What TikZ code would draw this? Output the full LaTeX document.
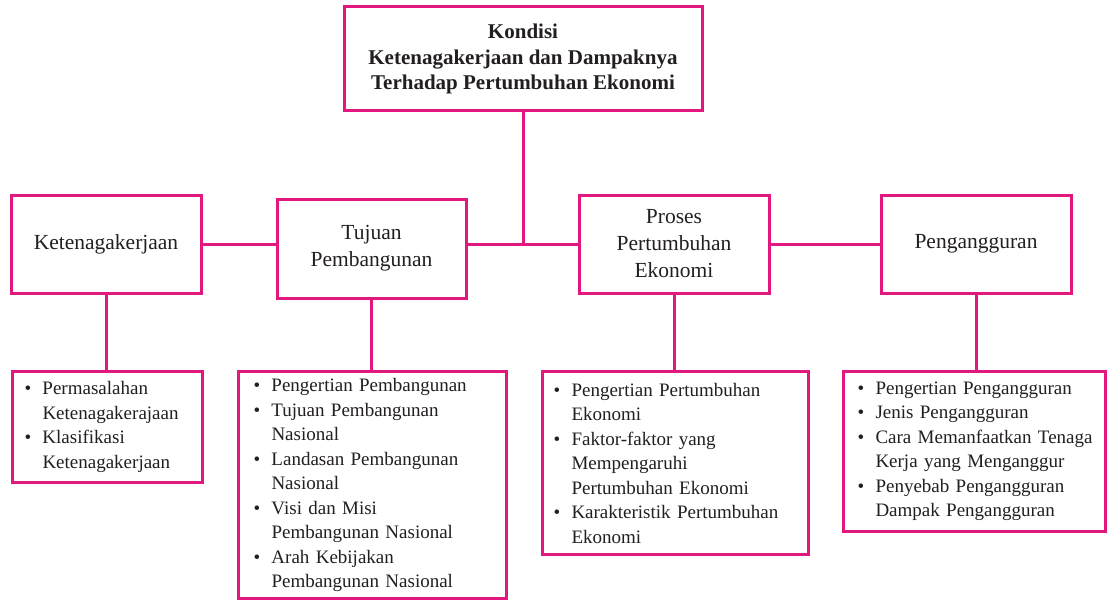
\documentclass[tikz,border=0pt]{standalone}
\usepackage{fontspec}
\setmainfont{Liberation Serif}
\definecolor{mag}{HTML}{E2187F}
\definecolor{ink}{HTML}{231F20}
\newcommand{\pbul}[1]{\makebox[18pt][l]{\textbullet}\mbox{#1}}
\newcommand{\pcon}[1]{\hspace*{18pt}\mbox{#1}}
\begin{document}
\begin{tikzpicture}[x=1pt,y=-1pt,
  frame/.style={draw=mag, line width=3pt, fill=white, inner sep=0pt, text=ink},
  headbox/.style={frame, align=center, font=\fontsize{21.5}{27}\selectfont},
  listbox/.style={frame, align=left, anchor=north west, font=\fontsize{19}{24.5}\selectfont},
  link/.style={draw=mag, line width=3pt}]
\useasboundingbox (0,0) rectangle (1107,599);

\node[headbox, font=\bfseries\fontsize{21}{25.5}\selectfont, minimum width=358pt, minimum height=104pt] (top) at (523,59)
  {Kondisi\\Ketenagakerjaan dan Dampaknya\\Terhadap Pertumbuhan Ekonomi};

\node[headbox, minimum width=190pt, minimum height=98pt] (keten) at (106,244) {Ketenagakerjaan};
\node[headbox, minimum width=189pt, minimum height=99pt] (tujuan) at (371.5,248.5) {Tujuan\\Pembangunan};
\node[headbox, minimum width=190pt, minimum height=98pt] (proses) at (674,244) {Proses\\Pertumbuhan\\Ekonomi};
\node[headbox, minimum width=190pt, minimum height=98pt] (peng) at (976,244) {Pengangguran};

\node[listbox, inner xsep=12pt, text width=166pt, minimum height=111pt] (b1) at (11,370)
  {\pbul{Permasalahan}\\ \pcon{Ketenagakerajaan}\\ \pbul{Klasifikasi}\\ \pcon{Ketenagakerjaan}};
\node[listbox, inner xsep=15pt, text width=238pt, minimum height=227pt] (b2) at (237,370)
  {\pbul{Pengertian Pembangunan}\\ \pbul{Tujuan Pembangunan}\\ \pcon{Nasional}\\
   \pbul{Landasan Pembangunan}\\ \pcon{Nasional}\\ \pbul{Visi dan Misi}\\
   \pcon{Pembangunan Nasional}\\ \pbul{Arah Kebijakan}\\ \pcon{Pembangunan Nasional}};
\node[listbox, inner xsep=11pt, text width=244pt, minimum height=183pt] (b3) at (541,370)
  {\pbul{Pengertian Pertumbuhan}\\ \pcon{Ekonomi}\\ \pbul{Faktor-faktor yang}\\
   \pcon{Mempengaruhi}\\ \pcon{Pertumbuhan Ekonomi}\\ \pbul{Karakteristik Pertumbuhan}\\ \pcon{Ekonomi}};
\node[listbox, inner xsep=14pt, text width=234pt, minimum height=160pt] (b4) at (842,370)
  {\pbul{Pengertian Pengangguran}\\ \pbul{Jenis Pengangguran}\\ \pbul{Cara Memanfaatkan Tenaga}\\
   \pcon{Kerja yang Menganggur}\\ \pbul{Penyebab Pengangguran}\\ \pcon{Dampak Pengangguran}};

\draw[link] (keten.east) -- (keten.east -| tujuan.west);
\draw[link] (tujuan.east |- keten.east) -- (proses.west);
\draw[link] (proses.east) -- (peng.west);
\draw[link] (top.south) -- (top.south |- proses.west);
\draw[link] (keten.south) -- (keten.south |- b1.north);
\draw[link] (tujuan.south) -- (tujuan.south |- b2.north);
\draw[link] (proses.south) -- (proses.south |- b3.north);
\draw[link] (peng.south) -- (peng.south |- b4.north);
\end{tikzpicture}
\end{document}
